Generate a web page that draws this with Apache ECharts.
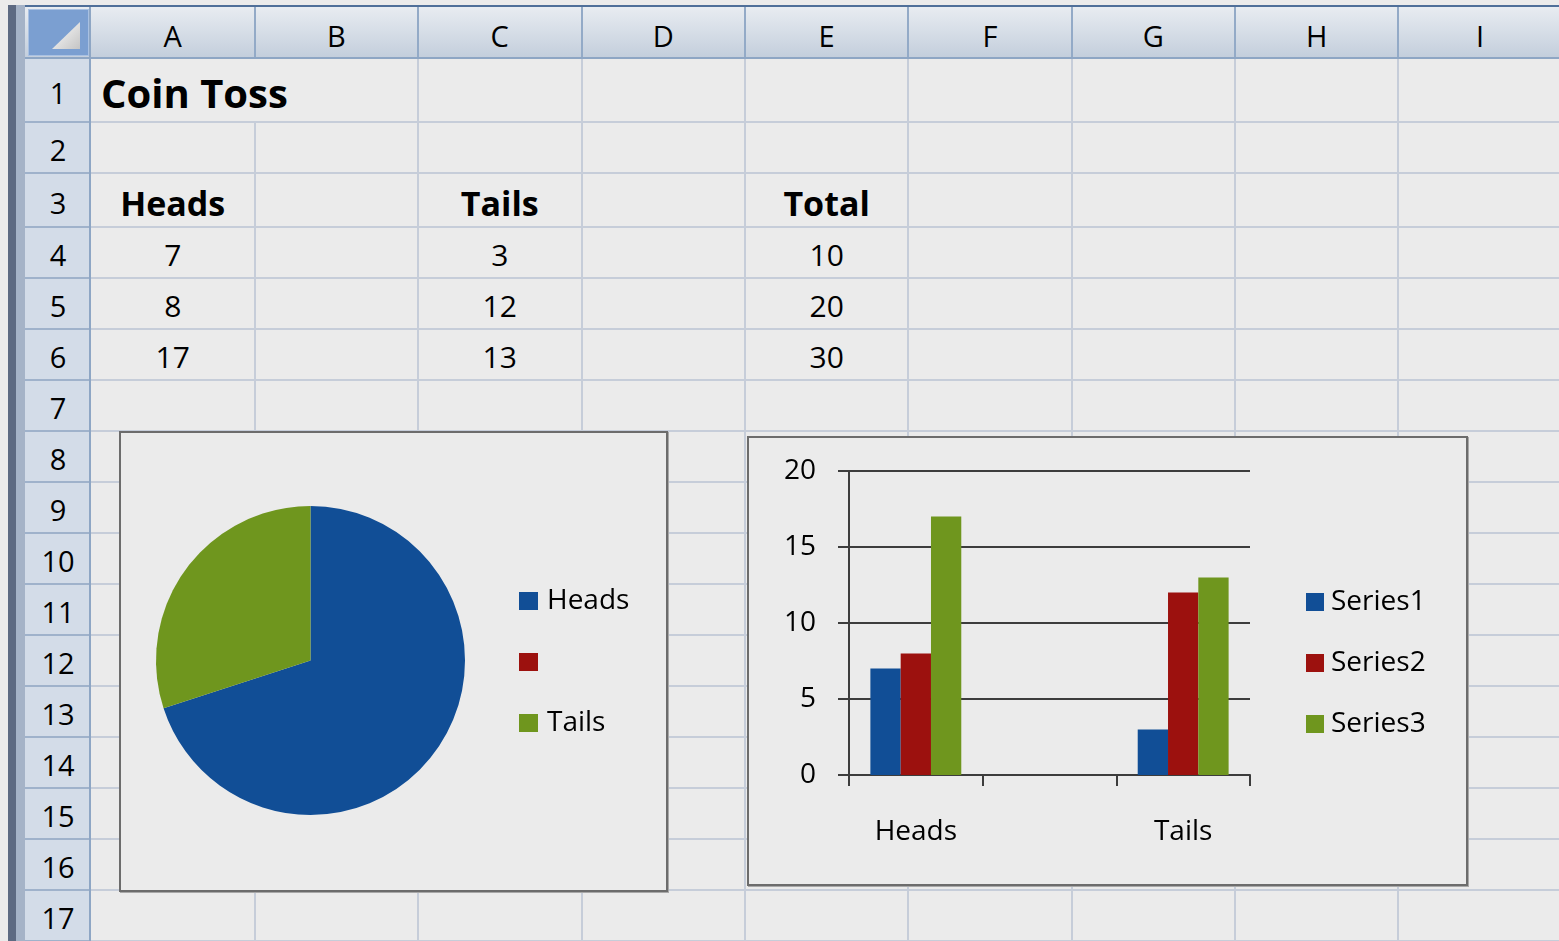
<!DOCTYPE html>
<html>
<head>
<meta charset="utf-8">
<script src="https://cdn.jsdelivr.net/npm/echarts@6/dist/echarts.min.js"></script>
<style>
  html, body { margin: 0; padding: 0; background: #ebebeb; overflow: hidden; }
  #sheet { position: absolute; left: 0; top: 0; width: 1559px; height: 941px; font-family: 'Open Sans', sans-serif; }
  .abs { position: absolute; box-sizing: border-box; }
  .txt { position: absolute; white-space: nowrap; color: #000; }
  #chart { position: absolute; left: 0; top: 0; width: 1559px; height: 941px; }
</style>
</head>
<body>
<div id="sheet"></div>
<div id="chart"></div>
<script>
// sheet contents
const colNames = ['A', 'B', 'C', 'D', 'E', 'F', 'G', 'H', 'I']
const sheetTitle = 'Coin Toss'
const tableHeaders = ['Heads', 'Tails', 'Total']
const headsCol = [7, 8, 17]
const tailsCol = [3, 12, 13]
const totalCol = [10, 20, 30]

// pie chart (row 4, columns A..C)
const pieNames = ['Heads', ' ', 'Tails']
const pieValues = [7, null, 3]

// column chart
const barCategories = ['Heads', '', 'Tails']
const seriesNames = ['Series1', 'Series2', 'Series3']
const series1 = [7, null, 3]
const series2 = [8, null, 12]
const series3 = [17, null, 13]

const colors = ['#114e96', '#9c110e', '#6f961e']

// sheet layout (pixels)
const colEdges = [91, 254.5, 418, 581.5, 745, 908.3, 1071.7, 1235, 1398.4, 1561.8]
const rowEdges = [58, 122, 172.5, 226.5, 277.5, 328.5, 379.5, 430.5, 481.5, 532.5, 583.5, 634.5, 685.5, 736.5, 787.5, 838.5, 889.5, 940.5]

const sheet = document.getElementById('sheet')

function box(l, t, w, h, css) {
  const d = document.createElement('div')
  d.className = 'abs'
  d.style.cssText = `left:${l}px;top:${t}px;width:${w}px;height:${h}px;` + (css || '')
  sheet.appendChild(d)
  return d
}

function text(str, x, cy, size, bold, align) {
  const d = document.createElement('div')
  d.className = 'txt'
  const left = align === 'left' ? x : x - 200
  d.style.cssText = `left:${left}px;top:${cy - 30}px;width:400px;height:60px;line-height:60px;` +
    `font-size:${size}px;font-weight:${bold ? 700 : 400};text-align:${align === 'left' ? 'left' : 'center'};`
  d.textContent = str
  sheet.appendChild(d)
}

const colCenter = i => (colEdges[i] + colEdges[i + 1]) / 2
const rowCenter = r => (rowEdges[r - 1] + rowEdges[r]) / 2 + 3

// window chrome on the left / top
box(8, 5, 8, 936, 'background:#5d6a82')
box(16, 5, 9, 936, 'background:#a5b3c7')
box(25, 5, 1534, 2, 'background:#4f6f99')
// column header strip
box(25, 7, 1534, 51, 'background:linear-gradient(#e8ecf1,#c3cedc)')
// row header strip
box(25, 58, 66, 883, 'background:#d3dce8')

// cell gridlines
for (let i = 1; i < colEdges.length; i++) {
  const top = i === 1 ? rowEdges[1] : rowEdges[0]   // "Coin Toss" overflows into B
  box(colEdges[i] - 1, top, 2, 941 - top, 'background:#c6cdd9')
}
for (let r = 1; r < rowEdges.length; r++) {
  box(91, rowEdges[r] - 1, 1468, 2, 'background:#c6cdd9')
  box(25, rowEdges[r] - 1, 66, 2, 'background:#9fb2cb')
}
// header separators
for (let i = 1; i < colEdges.length; i++) {
  box(colEdges[i] - 1, 7, 2, 51, 'background:#93aac7')
}
box(25, 57, 1534, 2, 'background:#8ea6c4')
box(89, 7, 2, 934, 'background:#8ea6c4')

// select-all corner
box(28, 9, 61, 47, 'background:#7b9fd1;border:1px solid #a9c1e2')
box(52, 22, 28, 27, 'background:linear-gradient(135deg,#ffffff,#c4c4c4);clip-path:polygon(100% 0,100% 100%,0 100%)')

// headers text
colNames.forEach((c, i) => text(c, colCenter(i), 36, 29, false))
for (let r = 1; r <= 17; r++) text(String(r), 58, rowCenter(r), 29, false)

// cell text
text(sheetTitle, 101, rowCenter(1), 40, true, 'left')
const dataCols = [0, 2, 4]
tableHeaders.forEach((h, k) => text(h, colCenter(dataCols[k]), rowCenter(3), 34, true))
;[headsCol, tailsCol, totalCol].forEach((col, k) => {
  col.forEach((v, j) => text(String(v), colCenter(dataCols[k]), rowCenter(4 + j), 30, false))
})

// chart frames
const frameCss = 'border:2px solid #6c6c6c;background:#ebebeb;box-shadow:1px 1px 0 #a8a8a8'
box(119, 431, 549, 461, frameCss)
box(747, 436, 721, 450, frameCss)

// charts
const myChart = echarts.init(document.getElementById('chart'))
const font = 'Open Sans'
const options = {
  animation: false,
  textStyle: { fontFamily: font },
  legend: [
    {
      data: pieNames,
      orient: 'vertical',
      left: 514,
      top: 582,
      itemWidth: 19,
      itemHeight: 18,
      itemGap: 33,
      icon: 'rect',
      selectedMode: false,
      textStyle: { fontSize: 28, lineHeight: 28, color: '#000', fontFamily: font, padding: [0, 0, 0, 4] }
    },
    {
      data: seriesNames,
      orient: 'vertical',
      left: 1301,
      top: 583,
      itemWidth: 18,
      itemHeight: 18,
      itemGap: 33,
      icon: 'rect',
      selectedMode: false,
      textStyle: { fontSize: 28, lineHeight: 28, color: '#000', fontFamily: font, padding: [0, 0, 0, 2] }
    }
  ],
  grid: { left: 849, top: 471, width: 401, height: 304 },
  xAxis: {
    type: 'category',
    data: barCategories,
    boundaryGap: true,
    axisLine: { lineStyle: { color: '#3c3c3c', width: 2 } },
    axisTick: { show: true, length: 11, lineStyle: { color: '#3c3c3c', width: 2 } },
    axisLabel: { fontSize: 28, color: '#000', margin: 43, fontFamily: font }
  },
  yAxis: {
    type: 'value',
    min: 0,
    max: 20,
    interval: 5,
    axisLine: { show: true, lineStyle: { color: '#3c3c3c', width: 2 } },
    axisTick: { show: true, length: 11, lineStyle: { color: '#3c3c3c', width: 2 } },
    axisLabel: { fontSize: 28, color: '#000', margin: 33, fontFamily: font, padding: [5, 0, 0, 0] },
    splitLine: { lineStyle: { color: '#3c3c3c', width: 2 } }
  },
  series: [
    {
      type: 'pie',
      center: [310.5, 660.5],
      radius: 154.5,
      startAngle: 90,
      clockwise: true,
      label: { show: false },
      labelLine: { show: false },
      emphasis: { disabled: true },
      data: pieNames.map((n, i) => ({ name: n, value: pieValues[i], itemStyle: { color: colors[i] } }))
    },
    ...[series1, series2, series3].map((d, i) => ({
      type: 'bar',
      name: seriesNames[i],
      data: d,
      barGap: '0%',
      barCategoryGap: '32%',
      itemStyle: { color: colors[i] }
    }))
  ]
}
myChart.setOption(options, true)
window.addEventListener('resize', () => {
  myChart.resize()
})
</script>
</body>
</html>
